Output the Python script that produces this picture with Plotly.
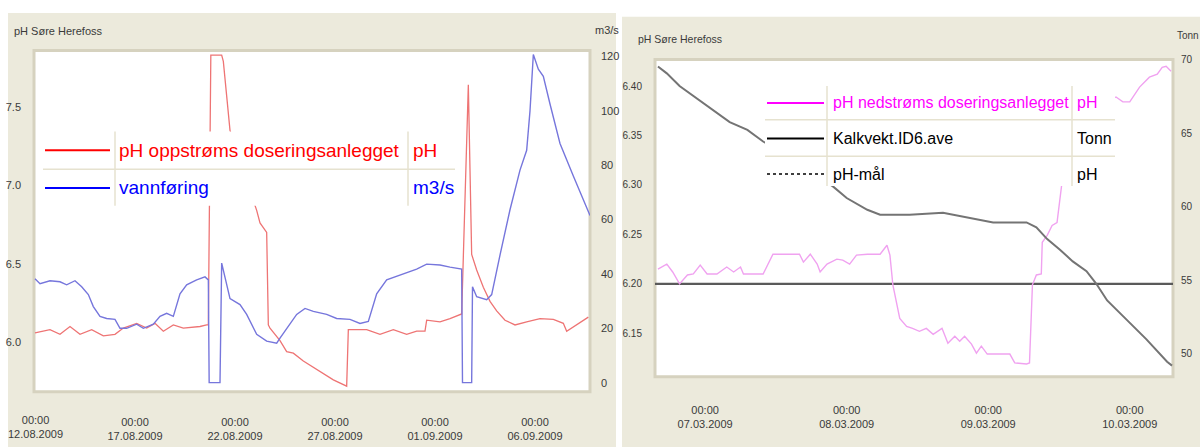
import plotly.graph_objects as go

# ---------------- data: left panel (pH oppstrøms / vannføring) ----------------
red_t = [
    "2009-08-12 00:00", "2009-08-12 18:00", "2009-08-13 06:00", "2009-08-13 18:00", "2009-08-14 06:00",
    "2009-08-14 20:00", "2009-08-15 10:00", "2009-08-16 00:00", "2009-08-16 10:00", "2009-08-17 02:00",
    "2009-08-17 14:00", "2009-08-18 00:00", "2009-08-18 10:00", "2009-08-18 22:00", "2009-08-19 10:00",
    "2009-08-20 06:00", "2009-08-20 14:00", "2009-08-20 16:00", "2009-08-20 19:00", "2009-08-21 08:00",
    "2009-08-21 10:00", "2009-08-21 18:00", "2009-08-23 02:00", "2009-08-23 06:00", "2009-08-23 14:00",
    "2009-08-23 16:00", "2009-08-23 18:00", "2009-08-24 06:00", "2009-08-24 14:00", "2009-08-24 22:00",
    "2009-08-25 10:00", "2009-08-25 22:00", "2009-08-26 10:00", "2009-08-26 22:00", "2009-08-27 14:00",
    "2009-08-27 16:00", "2009-08-28 14:00", "2009-08-29 06:00", "2009-08-29 22:00", "2009-08-30 14:00",
    "2009-08-31 02:00", "2009-08-31 12:00", "2009-08-31 14:00", "2009-09-01 06:00", "2009-09-01 18:00",
    "2009-09-02 04:00", "2009-09-02 08:00", "2009-09-02 16:00", "2009-09-02 20:00", "2009-09-03 02:00",
    "2009-09-03 10:00", "2009-09-03 18:00", "2009-09-04 02:00", "2009-09-04 12:00", "2009-09-05 00:00",
    "2009-09-05 14:00", "2009-09-06 06:00", "2009-09-06 22:00", "2009-09-07 10:00", "2009-09-07 14:00",
    "2009-09-08 02:00", "2009-09-08 16:00",
]
red_ph = [
    6.06, 6.08, 6.05, 6.10, 6.05,
    6.08, 6.04, 6.05, 6.09, 6.12,
    6.09, 6.12, 6.07, 6.11, 6.09,
    6.10, 6.11, 6.11, 7.83, 7.83,
    7.79, 7.35, 6.84, 6.76, 6.70,
    6.11, 6.09, 6.01, 5.94, 5.93,
    5.88, 5.84, 5.80, 5.76, 5.72,
    6.08, 6.08, 6.05, 6.08, 6.05,
    6.07, 6.07, 6.14, 6.13, 6.15,
    6.17, 6.18, 7.64, 6.56, 6.46,
    6.35, 6.26, 6.20, 6.14, 6.11,
    6.13, 6.15, 6.145, 6.12, 6.07,
    6.11, 6.16,
]

blue_t = [
    "2009-08-12 00:00", "2009-08-12 06:00", "2009-08-12 18:00", "2009-08-13 06:00", "2009-08-13 14:00",
    "2009-08-14 00:00", "2009-08-14 08:00", "2009-08-14 16:00", "2009-08-14 22:00", "2009-08-15 06:00",
    "2009-08-15 14:00", "2009-08-16 00:00", "2009-08-16 06:00", "2009-08-16 14:00", "2009-08-17 02:00",
    "2009-08-17 10:00", "2009-08-17 22:00", "2009-08-18 06:00", "2009-08-18 14:00", "2009-08-18 22:00",
    "2009-08-19 06:00", "2009-08-19 14:00", "2009-08-20 02:00", "2009-08-20 12:00", "2009-08-20 16:00",
    "2009-08-20 17:00", "2009-08-21 06:00", "2009-08-21 08:00", "2009-08-21 18:00", "2009-08-22 06:00",
    "2009-08-22 14:00", "2009-08-23 02:00", "2009-08-23 14:00", "2009-08-24 02:00", "2009-08-24 06:00",
    "2009-08-24 14:00", "2009-08-25 02:00", "2009-08-25 12:00", "2009-08-25 22:00", "2009-08-26 14:00",
    "2009-08-27 02:00", "2009-08-27 18:00", "2009-08-28 06:00", "2009-08-28 16:00", "2009-08-29 02:00",
    "2009-08-29 14:00", "2009-08-30 06:00", "2009-08-30 14:00", "2009-08-31 02:00", "2009-08-31 14:00",
    "2009-09-01 06:00", "2009-09-01 18:00", "2009-09-02 08:00", "2009-09-02 09:00", "2009-09-02 20:00",
    "2009-09-02 21:00", "2009-09-03 02:00", "2009-09-03 14:00", "2009-09-03 20:00", "2009-09-04 06:00",
    "2009-09-04 18:00", "2009-09-05 06:00", "2009-09-05 14:00", "2009-09-05 18:00", "2009-09-05 22:00",
    "2009-09-06 04:00", "2009-09-06 10:00", "2009-09-06 18:00", "2009-09-07 06:00", "2009-09-07 22:00",
    "2009-09-08 18:00",
]
blue_q = [
    38.2, 36.4, 37.5, 37.1, 36.0,
    37.5, 35.3, 32.4, 28.0, 24.4,
    23.6, 23.3, 20.0, 20.0, 21.5,
    20.0, 21.5, 24.4, 25.5, 24.4,
    32.7, 36.0, 37.8, 38.9, 37.8,
    0.0, 0.0, 44.0, 30.9, 28.7,
    25.1, 17.8, 15.3, 14.5, 16.4,
    20.0, 25.1, 27.3, 26.2, 25.1,
    23.6, 23.3, 21.8, 22.5, 32.7,
    37.8, 39.6, 40.7, 41.8, 43.6,
    43.3, 42.5, 41.8, 0.0, 0.0,
    35.3, 31.6, 30.5, 32.4, 46.9,
    63.6, 78.2, 85.5, 100.0, 120.7,
    115.3, 112.7, 102.5, 88.0, 76.0,
    61.5,
]

left_tick_dates = ["2009-08-12", "2009-08-17", "2009-08-22", "2009-08-27", "2009-09-01", "2009-09-06"]
left_tick_text = ["00:00<br>12.08.2009", "00:00<br>17.08.2009", "00:00<br>22.08.2009",
                  "00:00<br>27.08.2009", "00:00<br>01.09.2009", "00:00<br>06.09.2009"]
left_ph_ticks = [6.0, 6.5, 7.0, 7.5]
left_ph_labels = ["6.0", "6.5", "7.0", "7.5"]
left_q_ticks = [0, 20, 40, 60, 80, 100, 120]
left_q_labels = ["0", "20", "40", "60", "80", "100", "120"]

# ---------------- data: right panel (pH nedstrøms / Kalkvekt / pH-mål) ----------------
mag_t = [
    "2009-03-06 16:00", "2009-03-06 17:30", "2009-03-06 18:30", "2009-03-06 19:40", "2009-03-06 21:00",
    "2009-03-06 22:00", "2009-03-06 23:10", "2009-03-07 00:20", "2009-03-07 02:00", "2009-03-07 03:40",
    "2009-03-07 04:50", "2009-03-07 06:00", "2009-03-07 06:30", "2009-03-07 07:40", "2009-03-07 09:50",
    "2009-03-07 11:30", "2009-03-07 13:50", "2009-03-07 16:00", "2009-03-07 16:40", "2009-03-07 17:50",
    "2009-03-07 19:00", "2009-03-07 19:30", "2009-03-07 20:40", "2009-03-07 22:20", "2009-03-07 23:20",
    "2009-03-08 00:30", "2009-03-08 01:40", "2009-03-08 03:30", "2009-03-08 05:40", "2009-03-08 06:50",
    "2009-03-08 07:20", "2009-03-08 07:50", "2009-03-08 09:00", "2009-03-08 10:10", "2009-03-08 11:10",
    "2009-03-08 12:20", "2009-03-08 13:30", "2009-03-08 14:40", "2009-03-08 16:10", "2009-03-08 17:10",
    "2009-03-08 18:20", "2009-03-08 19:10", "2009-03-08 20:00", "2009-03-08 21:10", "2009-03-08 22:00",
    "2009-03-08 22:50", "2009-03-08 23:50", "2009-03-09 02:00", "2009-03-09 03:40", "2009-03-09 04:30",
    "2009-03-09 06:30", "2009-03-09 07:00", "2009-03-09 07:30", "2009-03-09 08:10", "2009-03-09 09:00",
    "2009-03-09 09:10", "2009-03-09 10:00", "2009-03-09 10:50", "2009-03-09 11:40", "2009-03-09 12:30",
    "2009-03-09 15:30", "2009-03-09 18:50", "2009-03-09 21:40", "2009-03-09 22:50", "2009-03-10 00:00",
    "2009-03-10 01:40", "2009-03-10 03:20", "2009-03-10 04:40", "2009-03-10 05:30", "2009-03-10 06:10",
    "2009-03-10 07:00",
]
mag_ph = [
    6.215, 6.22, 6.212, 6.20, 6.209,
    6.21, 6.219, 6.21, 6.21, 6.217,
    6.212, 6.217, 6.21, 6.21, 6.21,
    6.23, 6.23, 6.23, 6.222, 6.23,
    6.22, 6.212, 6.22, 6.225, 6.224,
    6.22, 6.229, 6.23, 6.23, 6.239,
    6.229, 6.199, 6.165, 6.157, 6.155,
    6.152, 6.155, 6.149, 6.155, 6.14,
    6.147, 6.142, 6.147, 6.139, 6.13,
    6.137, 6.129, 6.129, 6.129, 6.12,
    6.119, 6.12, 6.199, 6.209, 6.21,
    6.242, 6.249, 6.259, 6.262, 6.302,
    6.35, 6.38, 6.389, 6.384, 6.384,
    6.399, 6.409, 6.412, 6.419, 6.42,
    6.415,
]

kalk_t = [
    "2009-03-06 16:00", "2009-03-06 17:30", "2009-03-06 19:40", "2009-03-06 21:30", "2009-03-07 00:20",
    "2009-03-07 02:30", "2009-03-07 04:10", "2009-03-07 07:10", "2009-03-07 09:50", "2009-03-07 14:20",
    "2009-03-07 18:40", "2009-03-07 21:40", "2009-03-08 00:00", "2009-03-08 03:30", "2009-03-08 05:40",
    "2009-03-08 10:40", "2009-03-08 16:20", "2009-03-08 20:20", "2009-03-09 00:50", "2009-03-09 06:30",
    "2009-03-09 08:10", "2009-03-09 10:00", "2009-03-09 12:10", "2009-03-09 14:20", "2009-03-09 16:40",
    "2009-03-09 18:20", "2009-03-09 20:10", "2009-03-09 23:30", "2009-03-10 02:50", "2009-03-10 06:20",
    "2009-03-10 07:10",
]
kalk_tonn = [
    69.54, 69.07, 68.21, 67.68, 66.89,
    66.23, 65.76, 65.23, 64.44, 63.4,
    62.2, 61.39, 60.60, 59.80, 59.47,
    59.47, 59.60, 59.27, 58.94, 58.94,
    58.61, 57.81, 57.09, 56.29, 55.63,
    54.77, 53.64, 52.32, 50.99, 49.47,
    49.21,
]

target_t = ["2009-03-06 15:30", "2009-03-10 07:20"]
target_ph = [6.20, 6.20]

right_tick_dates = ["2009-03-07", "2009-03-08", "2009-03-09", "2009-03-10"]
right_tick_text = ["00:00<br>07.03.2009", "00:00<br>08.03.2009", "00:00<br>09.03.2009", "00:00<br>10.03.2009"]
right_ph_ticks = [6.15, 6.20, 6.25, 6.30, 6.35, 6.40]
right_ph_labels = ["6.15", "6.20", "6.25", "6.30", "6.35", "6.40"]
right_t_ticks = [50, 55, 60, 65, 70]
right_t_labels = ["50", "55", "60", "65", "70"]

panel_title = "pH Søre Herefoss"
left_legend_names = ["pH oppstrøms doseringsanlegget", "vannføring"]
left_legend_units = ["pH", "m3/s"]
right_legend_names = ["pH nedstrøms doseringsanlegget", "Kalkvekt.ID6.ave", "pH-mål"]
right_legend_units = ["pH", "Tonn", "pH"]

assert len(red_t) == len(red_ph) and len(blue_t) == len(blue_q)
assert len(mag_t) == len(mag_ph) and len(kalk_t) == len(kalk_tonn)

# ---------------- figure ----------------
W, H = 1200, 447
FONT = "Liberation Sans, Arial, sans-serif"
BEIGE = "#ECEADC"
FRAME = "#D6D2BF"
GRIDC = "#E6E2CF"
TXT = "#3A3A3A"


def px(x):
    return x / W


def py(y):
    return 1 - y / H


fig = go.Figure()
fig.add_trace(go.Scatter(x=red_t, y=red_ph, mode="lines", line=dict(color="#EE7474", width=1.3),
                         xaxis="x", yaxis="y", hoverinfo="skip", showlegend=False))
fig.add_trace(go.Scatter(x=blue_t, y=blue_q, mode="lines", line=dict(color="#7676DC", width=1.4),
                         xaxis="x", yaxis="y2", hoverinfo="skip", showlegend=False))
fig.add_trace(go.Scatter(x=target_t, y=target_ph, mode="lines", line=dict(color="#5A5A5A", width=2.2),
                         xaxis="x2", yaxis="y3", hoverinfo="skip", showlegend=False))
fig.add_trace(go.Scatter(x=kalk_t, y=kalk_tonn, mode="lines", line=dict(color="#747474", width=2),
                         xaxis="x2", yaxis="y4", hoverinfo="skip", showlegend=False))
fig.add_trace(go.Scatter(x=mag_t, y=mag_ph, mode="lines", line=dict(color="#F0A2F0", width=1.4),
                         xaxis="x2", yaxis="y3", hoverinfo="skip", showlegend=False))

tickfont = dict(family=FONT, size=11, color=TXT)
common = dict(showgrid=False, zeroline=False, ticks="", showline=False, fixedrange=True)

shapes = []
# panel backgrounds
shapes.append(dict(type="rect", xref="paper", yref="paper", x0=px(8), x1=px(616), y0=py(447), y1=py(8),
                   fillcolor=BEIGE, line=dict(width=0), layer="below"))
shapes.append(dict(type="rect", xref="paper", yref="paper", x0=px(622), x1=px(1200), y0=py(447), y1=py(12),
                   fillcolor=BEIGE, line=dict(width=0), layer="below"))
# plot areas
shapes.append(dict(type="rect", xref="paper", yref="paper", x0=px(34), x1=px(590), y0=py(391), y1=py(46),
                   fillcolor="white", line=dict(color=FRAME, width=3), layer="below"))
shapes.append(dict(type="rect", xref="paper", yref="paper", x0=px(655), x1=px(1173), y0=py(376), y1=py(55),
                   fillcolor="white", line=dict(color=FRAME, width=3), layer="below"))

annotations = []


def txt(x, y, s, color, size, anchor="left"):
    annotations.append(dict(xref="paper", yref="paper", x=px(x), y=py(y), text=s, showarrow=False,
                            xanchor=anchor, yanchor="middle",
                            font=dict(family=FONT, size=size, color=color)))


# panel titles and unit labels
txt(12, 26, panel_title, TXT, 11)
txt(636, 34, panel_title, TXT, 10.5)
txt(593, 25, left_legend_units[1], TXT, 11)
txt(1175, 31, right_legend_units[1], TXT, 10)

# first date label of the left panel (sits at the panel edge, so drawn as text on the x scale)
annotations.append(dict(xref="x", yref="paper", x=left_tick_dates[0], y=py(412), text=left_tick_text[0],
                        showarrow=False, xanchor="center", yanchor="top",
                        font=dict(family=FONT, size=11, color=TXT)))

# ---- left legend table ----
shapes.append(dict(type="rect", xref="paper", yref="paper", x0=px(43), x1=px(455), y0=py(203), y1=py(128),
                   fillcolor="white", line=dict(width=0), layer="above"))
shapes.append(dict(type="line", xref="paper", yref="paper", x0=px(43), x1=px(455), y0=py(166), y1=py(166),
                   line=dict(color=GRIDC, width=1.5), layer="above"))
for xv in (115, 408):
    shapes.append(dict(type="line", xref="paper", yref="paper", x0=px(xv), x1=px(xv), y0=py(203), y1=py(128),
                       line=dict(color=GRIDC, width=1.5), layer="above"))
left_colors = ["#FF0000", "#0000FF"]
for i, yv in enumerate((147, 185)):
    shapes.append(dict(type="line", xref="paper", yref="paper", x0=px(45), x1=px(110), y0=py(yv), y1=py(yv),
                       line=dict(color=left_colors[i], width=2), layer="above"))
    txt(117, yv, left_legend_names[i], left_colors[i], 19)
    txt(411, yv, left_legend_units[i], left_colors[i], 19)

# ---- right legend table ----
shapes.append(dict(type="rect", xref="paper", yref="paper", x0=px(765), x1=px(1115), y0=py(183), y1=py(82),
                   fillcolor="white", line=dict(width=0), layer="above"))
for yv in (116, 153):
    shapes.append(dict(type="line", xref="paper", yref="paper", x0=px(765), x1=px(1115), y0=py(yv), y1=py(yv),
                       line=dict(color=GRIDC, width=1.5), layer="above"))
for xv in (827, 1072):
    shapes.append(dict(type="line", xref="paper", yref="paper", x0=px(xv), x1=px(xv), y0=py(183), y1=py(82),
                       line=dict(color=GRIDC, width=1.5), layer="above"))
right_colors = ["#FF00FF", "#000000", "#000000"]
right_dash = ["solid", "solid", "3px,3px"]
for i, yv in enumerate((99, 135, 171)):
    shapes.append(dict(type="line", xref="paper", yref="paper", x0=px(767), x1=px(824), y0=py(yv), y1=py(yv),
                       line=dict(color=right_colors[i], width=2 if i < 2 else 1.5, dash=right_dash[i]),
                       layer="above"))
    txt(831, yv, right_legend_names[i], right_colors[i], 16)
    txt(1075, yv, right_legend_units[i], right_colors[i], 16)

fig.update_layout(
    width=W, height=H, margin=dict(l=0, r=0, t=0, b=0),
    paper_bgcolor="white", plot_bgcolor="rgba(0,0,0,0)",
    showlegend=False,
    xaxis=dict(domain=[px(34), px(590)], anchor="y", type="date",
               range=["2009-08-11 22:48", "2009-09-08 18:00"],
               tickmode="array", tickvals=left_tick_dates, ticktext=left_tick_text,
               ticklabeloverflow="hide past domain",
               tickfont=dict(family=FONT, size=11, color=TXT), ticklabelstandoff=22, **common),
    yaxis=dict(domain=[py(391), py(46)], anchor="x", range=[5.685, 7.859],
               tickmode="array", tickvals=left_ph_ticks, ticktext=left_ph_labels,
               tickfont=tickfont, ticklabelstandoff=12, **common),
    yaxis2=dict(overlaying="y", side="right", anchor="x", range=[-3.3, 122.2],
                tickmode="array", tickvals=left_q_ticks, ticktext=left_q_labels,
                tickfont=tickfont, ticklabelstandoff=10, **common),
    xaxis2=dict(domain=[px(655), px(1173)], anchor="y3", type="date",
                range=["2009-03-06 15:30", "2009-03-10 07:20"],
                tickmode="array", tickvals=right_tick_dates, ticktext=right_tick_text,
                tickfont=dict(family=FONT, size=11, color=TXT), ticklabelstandoff=25, **common),
    yaxis3=dict(domain=[py(376), py(55)], anchor="x2", range=[6.106, 6.427],
                tickmode="array", tickvals=right_ph_ticks, ticktext=right_ph_labels,
                tickfont=dict(family=FONT, size=10, color=TXT), ticklabelstandoff=12, **common),
    yaxis4=dict(overlaying="y3", side="right", anchor="x2", range=[48.45, 70.02],
                tickmode="array", tickvals=right_t_ticks, ticktext=right_t_labels,
                tickfont=dict(family=FONT, size=10, color=TXT), ticklabelstandoff=7, **common),
    shapes=shapes,
    annotations=annotations,
)

fig.write_html("out.html")
